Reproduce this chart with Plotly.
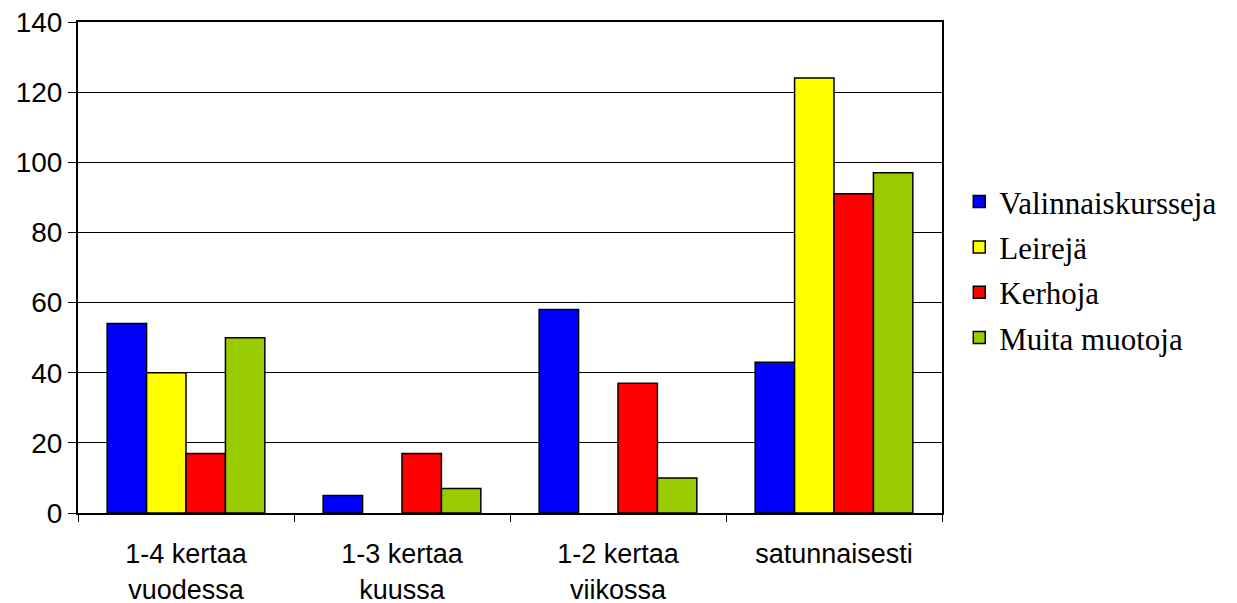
import plotly.graph_objects as go

categories = ["1-4 kertaa<br>vuodessa", "1-3 kertaa<br>kuussa", "1-2 kertaa<br>viikossa", "satunnaisesti"]
series_names = ["Valinnaiskursseja", "Leirejä", "Kerhoja", "Muita muotoja"]
valinnaiskursseja = [54, 5, 58, 43]
leireja = [40, 0, 0, 124]
kerhoja = [17, 17, 37, 91]
muita_muotoja = [50, 7, 10, 97]
colors = ["#0000FF", "#FFFF00", "#FF0000", "#99CC00"]
y_ticks = [0, 20, 40, 60, 80, 100, 120, 140]

SANS = "Liberation Sans, Arial, sans-serif"
SERIF = "Liberation Serif, Times New Roman, serif"

fig = go.Figure()
for i, (name, vals, col) in enumerate(zip(series_names,
                                         [valinnaiskursseja, leireja, kerhoja, muita_muotoja],
                                         colors)):
    # no outline on empty bars so they leave no flat line on the baseline
    edge_w = [1.5 if v > 0 else 0 for v in vals]
    fig.add_trace(go.Bar(
        x=categories, y=vals, name=name, legendgroup=f"g{i}",
        marker=dict(color=col, line=dict(color="black", width=edge_w)),
    ))

fig.update_layout(
    width=1237, height=603,
    margin=dict(l=78, r=295, t=22, b=90),
    paper_bgcolor="white", plot_bgcolor="white",
    barmode="group", bargap=0.27, bargroupgap=0,
    font=dict(family=SANS, size=28, color="black"),
    showlegend=True,
    legend=dict(
        x=1.02, y=0.495, xanchor="left", yanchor="middle",
        font=dict(family=SERIF, size=31, color="black"),
        tracegroupgap=2,
        bgcolor="rgba(0,0,0,0)",
    ),
)
fig.update_xaxes(
    type="category", tickson="boundaries", ticks="outside", ticklen=7,
    tickcolor="black", tickwidth=1, showline=True, linecolor="black", linewidth=2,
    mirror=True, showgrid=False, tickfont=dict(family=SANS, size=27, color="black"),
    ticklabelstandoff=16, automargin=False,
)
fig.update_yaxes(
    range=[0, 140], tickvals=y_ticks, ticks="outside", ticklen=8, tickcolor="black",
    showline=True, linecolor="black", linewidth=2, mirror=True,
    showgrid=True, gridcolor="black", gridwidth=1, zeroline=False,
    tickfont=dict(family=SANS, size=28, color="black"), automargin=False,
)

fig.write_html("out.html")
